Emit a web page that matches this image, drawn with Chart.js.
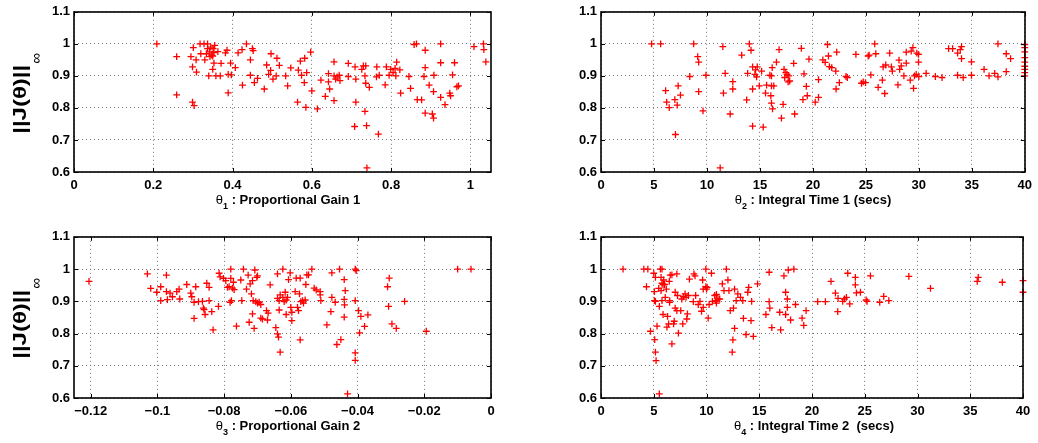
<!DOCTYPE html>
<html><head><meta charset="utf-8">
<script src="https://cdn.jsdelivr.net/npm/chart.js@4.4.0/dist/chart.umd.min.js"></script>
<style>
html,body{margin:0;padding:0;background:#fff;}
body{width:1038px;height:443px;position:relative;overflow:hidden;}
canvas{position:absolute;}
</style></head><body>
<canvas id="c1" style="left:0px;top:0px" width="505" height="215"></canvas>
<canvas id="c2" style="left:530px;top:0px" width="508" height="215"></canvas>
<canvas id="c3" style="left:0px;top:225px" width="505" height="218"></canvas>
<canvas id="c4" style="left:530px;top:225px" width="508" height="218"></canvas>
<script>
// ---------- data ----------
const yTicks = [0.6, 0.7, 0.8, 0.9, 1.0, 1.1];
const yTickLabels = ['0.6', '0.7', '0.8', '0.9', '1', '1.1'];

const theta1Ticks = [0, 0.2, 0.4, 0.6, 0.8, 1.0];
const theta1TickLabels = ['0', '0.2', '0.4', '0.6', '0.8', '1'];
const theta2Ticks = [0, 5, 10, 15, 20, 25, 30, 35, 40];
const theta2TickLabels = ['0', '5', '10', '15', '20', '25', '30', '35', '40'];
const theta3Ticks = [-0.12, -0.1, -0.08, -0.06, -0.04, -0.02, 0];
const theta3TickLabels = ['\u22120.12', '\u22120.1', '\u22120.08', '\u22120.06', '\u22120.04', '\u22120.02', '0'];
const theta4Ticks = [0, 5, 10, 15, 20, 25, 30, 35, 40];
const theta4TickLabels = ['0', '5', '10', '15', '20', '25', '30', '35', '40'];

const theta1 = [0.209,0.259,0.259,0.299,0.303,0.295,0.301,0.299,0.308,0.309,0.318,0.328,0.337,0.32,0.33,0.334,0.337,0.34,0.35,0.351,0.355,0.353,0.35,0.353,0.358,0.363,0.371,0.369,0.382,0.386,0.389,0.389,0.395,0.397,0.407,0.414,0.424,0.425,0.435,0.445,0.445,0.45,0.452,0.455,0.463,0.48,0.486,0.491,0.496,0.497,0.502,0.51,0.512,0.518,0.342,0.345,0.347,0.343,
0.534,0.539,0.547,0.564,0.566,0.571,0.574,0.581,0.582,0.585,0.587,0.597,0.6,0.614,0.623,0.634,0.642,0.642,0.645,0.656,0.656,0.656,0.66,0.664,0.671,0.669,0.692,0.692,0.709,0.711,0.711,0.708,0.726,0.73,0.736,0.734,0.736,0.734,0.738,0.745,0.764,0.763,0.768,0.77,0.785,0.788,0.795,0.799,0.805,0.81,0.812,0.814,0.822,0.824,0.845,0.849,0.858,0.864,0.866,0.877,0.883,0.886,0.886,0.886,0.896,0.904,0.907,0.907,0.908,0.925,0.925,0.925,0.936,0.948,0.95,0.955,0.96,0.966,0.97,1.009,1.033,1.034,1.039,0.739];
const J1 = [1.0,0.96,0.841,0.818,0.807,0.96,0.988,0.928,0.95,0.912,1.0,1.0,1.0,0.969,0.95,0.969,0.985,0.9,0.962,0.985,0.995,0.973,0.92,0.94,0.9,0.976,0.939,0.9,0.972,0.98,0.905,0.847,0.94,0.903,0.926,0.972,0.982,0.871,1.0,0.95,0.902,0.985,0.979,0.879,0.892,0.859,0.934,0.905,0.917,0.969,0.89,0.9,0.955,0.933,0.975,0.99,0.965,0.96,
0.9,0.869,0.925,0.818,0.918,0.946,0.902,0.879,0.955,0.802,0.91,0.974,0.853,0.797,0.887,0.836,0.907,0.881,0.859,0.823,0.944,0.9,0.89,0.897,0.885,0.902,0.939,0.898,0.928,0.89,0.818,0.742,0.92,0.931,0.931,0.9,0.877,0.789,0.745,0.864,0.928,0.897,0.718,0.902,0.872,0.928,0.902,0.92,0.91,0.923,0.9,0.943,0.919,0.846,0.898,0.861,0.998,1.0,0.826,0.825,0.898,0.784,0.98,0.926,0.871,0.781,0.768,0.851,0.902,1.0,0.941,0.833,0.81,0.846,0.838,0.903,0.941,0.866,0.869,0.991,1.0,0.982,0.944,0.613];

const theta2 = [4.78,5.63,6.1,6.2,6.44,6.97,7.03,7.19,7.28,7.5,8.38,8.75,9.13,9.22,9.22,9.63,9.91,11.25,11.5,11.56,11.72,12.19,12.44,12.44,13.28,13.75,13.84,14.0,14.16,14.31,14.31,14.31,14.53,14.59,14.69,14.75,14.94,15.16,15.31,15.53,15.63,15.94,16.03,16.09,16.09,16.09,16.16,16.19,16.31,16.56,16.81,17.03,17.19,17.28,17.34,17.44,17.56,17.66,17.72,17.81,18.19,18.28,18.91,19.06,19.16,19.38,19.47,19.63,
20.22,20.53,20.53,20.94,21.16,21.38,21.47,21.56,21.78,22.16,22.19,22.25,22.5,23.13,23.25,24.06,24.59,24.75,24.97,25.22,25.31,25.47,25.84,25.94,26.16,26.56,26.63,26.78,26.88,27.25,27.41,27.5,28.03,28.13,28.19,28.34,28.59,28.81,28.81,29.19,29.28,29.44,29.5,29.59,29.75,29.81,29.97,29.97,30.0,30.69,31.56,32.19,32.81,33.19,33.66,33.66,33.91,34.03,34.03,34.19,34.97,34.97,36.16,36.63,37.16,37.47,37.47,38.25,38.25,38.66,40,40,40,40,40,40,40,40,40];
const J2 = [1.0,1.0,0.854,0.818,0.801,0.826,0.717,0.809,0.869,0.84,0.898,1.0,0.96,0.943,0.851,0.791,0.902,0.613,0.991,0.846,0.908,0.781,0.882,0.859,0.965,0.825,0.908,1.0,0.98,0.928,0.859,0.743,0.905,0.919,0.897,0.928,0.869,0.915,0.74,0.846,0.871,0.902,0.838,0.9,0.869,0.815,0.926,0.797,0.869,0.943,0.982,0.768,0.811,0.92,0.895,0.91,0.905,0.881,0.9,0.884,0.939,0.781,0.986,0.826,0.906,0.867,0.838,0.952,
0.818,0.833,0.888,0.95,0.942,0.998,0.962,0.929,0.926,0.915,0.859,0.974,0.879,0.898,0.895,0.967,0.877,0.881,0.879,0.962,0.965,0.903,1.0,0.969,0.864,0.887,0.928,0.845,0.934,0.971,0.928,0.915,0.872,0.949,0.92,0.931,0.9,0.94,0.974,0.887,0.977,0.988,0.861,0.9,0.905,0.971,0.967,0.943,0.898,0.908,0.898,0.895,0.985,0.985,0.971,0.902,0.982,0.991,0.954,0.895,0.944,0.902,0.92,0.9,0.908,1.0,0.897,0.969,0.913,0.954,0.998,0.988,0.975,0.957,0.943,0.93,0.92,0.91,0.9];

const theta3 = [-0.1205,-0.103,-0.102,-0.1002,-0.099,-0.099,-0.0973,-0.0973,-0.097,-0.0962,-0.0955,-0.0942,-0.0935,-0.0933,-0.0912,-0.09,-0.0897,-0.089,-0.089,-0.0885,-0.0877,-0.0865,-0.0862,-0.086,-0.0857,-0.0852,-0.0845,-0.0845,-0.0837,-0.0833,-0.0817,-0.0815,-0.0812,-0.0802,-0.0795,-0.079,-0.0785,-0.0782,-0.078,-0.078,-0.0778,-0.0775,-0.0772,-0.077,-0.0763,-0.075,-0.0747,-0.0742,-0.0733,-0.0728,-0.0725,-0.0722,-0.0718,-0.0715,-0.0715,-0.0713,-0.071,-0.0708,-0.0705,-0.0702,-0.07,-0.07,-0.0695,-0.069,-0.069,-0.0685,-0.0673,-0.067,-0.0668,-0.0662,-0.0645,-0.064,-0.064,-0.0637,-0.064,-0.0635,-0.0635,-0.0632,
-0.0632,-0.0624,-0.0624,-0.062,-0.0617,-0.0614,-0.0614,-0.061,-0.0607,-0.0602,-0.06,-0.0597,-0.0597,-0.0587,-0.0584,-0.058,-0.0577,-0.0574,-0.0572,-0.0572,-0.057,-0.0565,-0.0562,-0.0557,-0.0555,-0.0552,-0.0547,-0.0537,-0.053,-0.0524,-0.0512,-0.0512,-0.051,-0.0492,-0.048,-0.0477,-0.0477,-0.0467,-0.0462,-0.0454,-0.045,-0.044,-0.044,-0.0437,-0.0439,-0.044,-0.043,-0.0407,-0.0407,-0.0407,-0.0404,-0.0407,-0.0397,-0.0394,-0.039,-0.0379,-0.0369,-0.031,-0.0305,-0.0307,-0.0297,-0.0284,-0.0259,-0.0194,-0.01,-0.006];
const J3 = [0.962,0.985,0.94,0.928,0.945,0.902,0.981,0.93,0.905,0.925,0.914,0.93,0.938,0.907,0.952,0.925,0.914,0.897,0.847,0.945,0.899,0.9,0.879,0.874,0.859,0.956,0.943,0.902,0.868,0.811,0.884,0.987,0.976,0.971,0.964,0.943,0.945,0.897,1.0,0.971,0.902,0.941,0.959,0.936,0.823,0.966,0.902,1.0,0.938,0.981,0.835,0.954,0.923,0.861,0.964,0.902,0.816,0.997,0.899,0.974,0.979,0.894,0.897,0.848,0.89,0.845,0.871,0.842,0.863,0.951,0.818,0.985,0.799,0.789,0.909,0.902,0.873,0.742,
0.92,1.0,0.912,0.899,0.928,0.904,0.859,0.912,0.967,0.988,0.881,0.866,0.84,0.93,0.972,0.881,0.871,0.923,0.972,0.78,0.899,0.902,0.894,0.904,0.952,0.982,0.982,1.0,0.941,0.935,0.93,0.92,0.902,0.827,0.868,0.912,0.988,0.897,0.766,1.0,0.781,0.967,0.906,0.933,0.889,0.851,0.613,0.74,0.717,1.0,0.995,0.902,0.871,0.802,0.853,0.822,0.858,0.945,0.972,0.884,0.83,0.816,0.9,0.807,1.0,1.0];

const theta4 = [2.09,4.06,4.44,4.31,4.69,5.0,5.16,5.06,5.06,5.16,5.09,5.16,5.22,5.31,5.47,5.53,5.53,5.63,5.69,5.69,5.78,5.78,5.88,5.94,5.78,5.88,6.03,6.09,6.19,6.25,6.31,6.41,6.47,6.56,6.5,6.5,6.72,6.72,6.88,7.03,6.94,7.19,7.03,7.19,7.25,7.34,7.56,7.66,7.75,7.81,7.97,8.06,8.13,8.19,8.28,8.38,8.75,8.81,8.91,8.97,9.22,9.38,9.53,9.63,9.69,9.69,9.94,9.94,10.06,10.0,10.16,10.25,10.47,10.56,10.78,10.88,10.94,10.94,11.09,11.25,11.5,11.66,11.88,12.03,12.13,12.25,12.44,12.5,12.56,12.66,12.66,12.81,12.97,13.22,13.44,13.5,13.75,13.91,14.0,14.22,14.28,14.44,14.84,15.63,15.94,15.94,16.0,16.19,16.94,17.03,17.34,17.5,17.5,17.66,17.66,17.75,17.97,18.28,18.44,19.06,19.22,19.44,
20.54,21.27,21.8,22.22,22.44,22.47,22.91,23.07,23.26,23.39,23.58,24.11,24.11,24.21,24.59,25.13,25.22,25.54,26.42,26.8,27.28,29.18,31.23,35.66,35.76,38.04,40.0,40.0];
const J4 = [1.0,1.0,1.0,0.945,0.807,0.987,0.974,0.93,0.902,0.9,0.781,0.742,0.716,0.823,0.94,0.613,0.884,1.0,0.974,0.933,0.956,1.0,0.952,0.966,0.902,0.859,0.952,0.912,0.938,0.82,0.853,0.83,0.962,0.981,0.897,0.902,0.982,0.768,0.83,0.928,0.838,0.985,0.879,0.871,0.918,0.801,0.871,0.907,0.83,0.914,0.923,0.912,0.845,0.861,0.918,0.969,0.899,0.985,0.979,0.918,0.89,0.9,0.869,0.966,0.938,0.881,1.0,0.945,0.943,0.938,0.848,0.89,0.987,0.9,0.918,0.902,0.921,0.894,0.907,0.907,0.954,0.933,1.0,0.966,0.933,0.871,0.742,0.78,0.879,0.816,0.938,0.902,0.923,0.912,0.902,0.847,0.797,0.928,0.943,0.84,0.9,0.791,0.954,0.859,0.99,0.899,0.879,0.818,0.866,0.811,0.979,0.928,0.859,0.907,0.881,0.997,0.842,1.0,0.89,0.848,0.825,0.871,
0.899,0.899,0.962,0.925,0.868,0.909,0.9,0.907,0.912,0.987,0.892,0.974,0.951,0.926,0.928,0.904,0.9,0.979,0.897,0.915,0.902,0.977,0.94,0.962,0.974,0.959,0.964,0.928];

// ---------- rendering ----------
const FONT = '"Liberation Sans", Arial, Helvetica, sans-serif';

function decoPlugin(o) {
  return {
    id: 'deco',
    afterDraw(chart) {
      const ctx = chart.ctx;
      const a = chart.chartArea;
      const xs = chart.scales.x, ys = chart.scales.y;
      ctx.save();
      // inward tick marks
      ctx.strokeStyle = '#000';
      ctx.lineWidth = 1;
      ctx.setLineDash([]);
      ctx.beginPath();
      o.xTicks.forEach(v => {
        const px = Math.round(xs.getPixelForValue(v)) + 0.5;
        ctx.moveTo(px, a.bottom); ctx.lineTo(px, a.bottom - 4);
        ctx.moveTo(px, a.top); ctx.lineTo(px, a.top + 4);
      });
      yTicks.forEach(v => {
        const py = Math.round(ys.getPixelForValue(v)) + 0.5;
        ctx.moveTo(a.left, py); ctx.lineTo(a.left + 4, py);
        ctx.moveTo(a.right, py); ctx.lineTo(a.right - 4, py);
      });
      ctx.stroke();
      // box
      ctx.lineWidth = 1.6;
      ctx.strokeRect(Math.round(a.left), Math.round(a.top), Math.round(a.right - a.left), Math.round(a.bottom - a.top));
      // x title
      ctx.fillStyle = '#000';
      ctx.textBaseline = 'alphabetic';
      ctx.textAlign = 'left';
      const fTh = '13px ' + FONT, fSub = 'bold 9px ' + FONT, fMain = 'bold 13px ' + FONT;
      ctx.font = fTh; const w1 = ctx.measureText('\u03B8').width;
      ctx.font = fSub; const w2 = ctx.measureText(o.sub).width;
      ctx.font = fMain; const w3 = ctx.measureText(o.xTitle).width;
      let x0 = o.xTitleCenter - (w1 + w2 + w3) / 2;
      const by = a.bottom + 32;
      ctx.font = fTh; ctx.fillText('\u03B8', x0, by); x0 += w1;
      ctx.font = fSub; ctx.fillText(o.sub, x0, by + 5); x0 += w2;
      ctx.font = fMain; ctx.fillText(o.xTitle, x0, by);
      // y title
      if (o.yTitle) {
        ctx.translate(25.5, a.top + 122);
        ctx.rotate(-Math.PI / 2);
        ctx.font = 'bold 19px ' + FONT;
        const t = '||J(\u03B8)||';
        const tw = ctx.measureText(t).width;
        ctx.save();
        ctx.scale(69 / tw, 1);
        ctx.fillText(t, 0, 0);
        ctx.restore();
        ctx.font = '15px ' + FONT;
        ctx.fillText('\u221E', 70, 15);
      }
      ctx.restore();
    }
  };
}

function makeChart(id, xv, yv, o) {
  const pts = xv.map((x, i) => ({ x: x, y: yv[i] }));
  const tickFont = { family: FONT, size: 13, weight: 'bold' };
  new Chart(document.getElementById(id), {
    type: 'scatter',
    data: { datasets: [{
      data: pts, pointStyle: 'cross', pointRadius: 3.4,
      pointBorderColor: '#ff0000', pointBackgroundColor: '#ff0000', pointBorderWidth: 1.3,
      showLine: false, clip: false
    }]},
    options: {
      responsive: false, animation: false, events: [],
      layout: { padding: { top: o.padTop, right: o.padRight, left: 0, bottom: 0 } },
      plugins: { legend: { display: false }, tooltip: { enabled: false } },
      scales: {
        x: {
          type: 'linear', min: o.xMin, max: o.xMax,
          afterBuildTicks: s => { s.ticks = o.xTicks.map(v => ({ value: v })); },
          afterFit: s => { s.height = o.xAxisH; },
          ticks: { autoSkip: false, maxRotation: 0, minRotation: 0, padding: 6, color: '#000', font: tickFont,
                   callback: (v, i) => o.xLabels[i] },
          grid: { color: '#777', lineWidth: 1, drawTicks: false },
          border: { display: false, dash: [1, 3] }
        },
        y: {
          type: 'linear', min: 0.6, max: 1.1,
          afterBuildTicks: s => { s.ticks = yTicks.map(v => ({ value: v })); },
          afterFit: s => { s.width = o.yAxisW; },
          ticks: { autoSkip: false, padding: 4, color: '#000', font: tickFont,
                   callback: (v, i) => yTickLabels[i] },
          grid: { color: '#777', lineWidth: 1, drawTicks: false },
          border: { display: false, dash: [1, 3] }
        }
      }
    },
    plugins: [decoPlugin(o)]
  });
}

makeChart('c1', theta1, J1, { xMin: 0, xMax: 1.052, xTicks: theta1Ticks, xLabels: theta1TickLabels,
  padTop: 10, padRight: 14, xAxisH: 43, yAxisW: 74, sub: '1', xTitle: ' : Proportional Gain 1', xTitleCenter: 288, yTitle: true });
makeChart('c2', theta2, J2, { xMin: 0, xMax: 40, xTicks: theta2Ticks, xLabels: theta2TickLabels,
  padTop: 10, padRight: 13, xAxisH: 43, yAxisW: 71, sub: '2', xTitle: ' : Integral Time 1 (secs)', xTitleCenter: 283, yTitle: false });
makeChart('c3', theta3, J3, { xMin: -0.125, xMax: 0, xTicks: theta3Ticks, xLabels: theta3TickLabels,
  padTop: 11, padRight: 14, xAxisH: 45, yAxisW: 74, sub: '3', xTitle: ' : Proportional Gain 2', xTitleCenter: 288, yTitle: true });
makeChart('c4', theta4, J4, { xMin: 0, xMax: 40, xTicks: theta4Ticks, xLabels: theta4TickLabels,
  padTop: 11, padRight: 15, xAxisH: 45, yAxisW: 71, sub: '4', xTitle: ' : Integral Time 2  (secs)', xTitleCenter: 284, yTitle: false });
</script>
</body></html>
